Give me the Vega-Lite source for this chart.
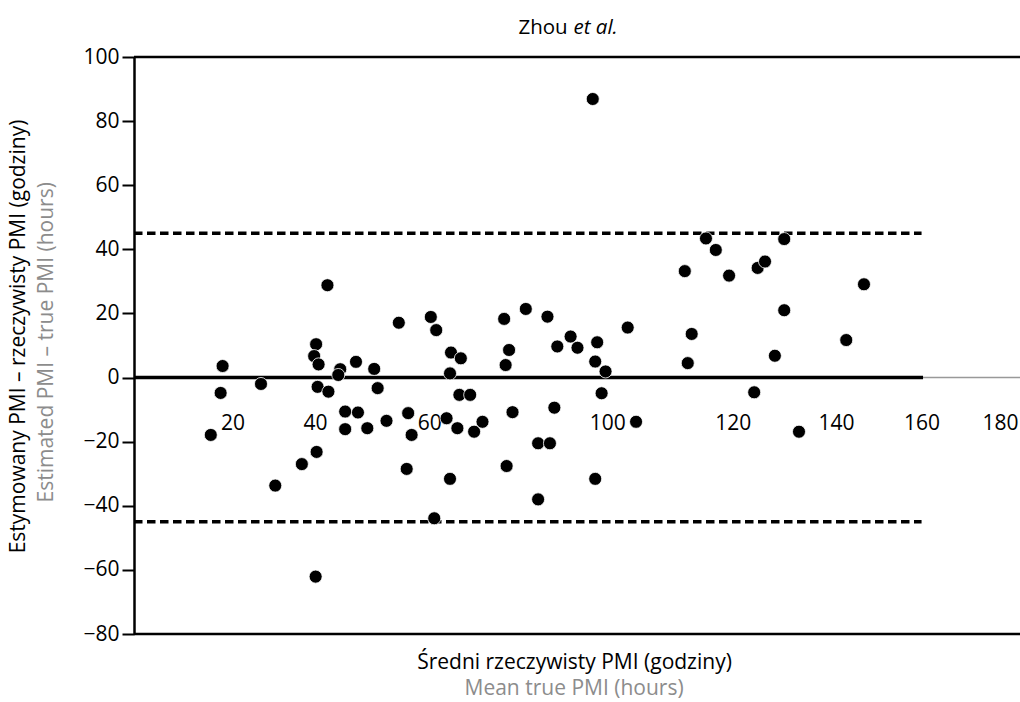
{
  "$schema": "https://vega.github.io/schema/vega-lite/v6.json",
  "width": 886,
  "height": 577,
  "autosize": {"type": "none"},
  "padding": {"left": 134, "top": 57, "right": 0, "bottom": 68},
  "background": "white",
  "config": {"view": {"stroke": null}, "font": "Open Sans"},
  "datasets": {
    "points": [
      {"mean": 15.6, "diff": -17.9}, {"mean": 18.0, "diff": 3.6}, {"mean": 17.6, "diff": -4.8},
      {"mean": 25.8, "diff": -2.0}, {"mean": 28.7, "diff": -33.7}, {"mean": 34.1, "diff": -27.0},
      {"mean": 37.1, "diff": -23.2}, {"mean": 36.9, "diff": -62.1}, {"mean": 37.0, "diff": 10.4},
      {"mean": 36.6, "diff": 6.7}, {"mean": 37.5, "diff": 4.1}, {"mean": 37.3, "diff": -2.9},
      {"mean": 39.3, "diff": 28.8}, {"mean": 39.5, "diff": -4.4}, {"mean": 41.9, "diff": 2.6},
      {"mean": 41.5, "diff": 0.8}, {"mean": 42.9, "diff": -10.6}, {"mean": 42.9, "diff": -16.1},
      {"mean": 45.1, "diff": 4.9}, {"mean": 45.5, "diff": -10.9}, {"mean": 47.4, "diff": -15.8},
      {"mean": 48.8, "diff": 2.7}, {"mean": 49.5, "diff": -3.3}, {"mean": 51.3, "diff": -13.5},
      {"mean": 53.8, "diff": 17.1}, {"mean": 55.4, "diff": -28.5}, {"mean": 55.7, "diff": -11.1},
      {"mean": 56.4, "diff": -17.9}, {"mean": 60.3, "diff": 18.9}, {"mean": 61.4, "diff": 14.8},
      {"mean": 61.0, "diff": -43.9}, {"mean": 63.5, "diff": -12.7}, {"mean": 64.2, "diff": 1.3},
      {"mean": 64.2, "diff": -31.6}, {"mean": 64.4, "diff": 7.8}, {"mean": 65.7, "diff": -15.8},
      {"mean": 66.1, "diff": -5.4}, {"mean": 66.4, "diff": 6.0}, {"mean": 68.3, "diff": -5.4},
      {"mean": 69.1, "diff": -16.9}, {"mean": 70.8, "diff": -13.8}, {"mean": 75.2, "diff": 18.3},
      {"mean": 75.5, "diff": 3.9}, {"mean": 75.7, "diff": -27.6}, {"mean": 76.2, "diff": 8.6},
      {"mean": 76.9, "diff": -10.8}, {"mean": 79.6, "diff": 21.4}, {"mean": 82.1, "diff": -20.5},
      {"mean": 82.1, "diff": -38.0}, {"mean": 84.0, "diff": 19.0}, {"mean": 84.5, "diff": -20.5},
      {"mean": 85.4, "diff": -9.4}, {"mean": 86.0, "diff": 9.7}, {"mean": 88.7, "diff": 12.8},
      {"mean": 90.1, "diff": 9.3}, {"mean": 93.2, "diff": 86.9}, {"mean": 93.7, "diff": 5.0},
      {"mean": 94.1, "diff": 11.0}, {"mean": 93.7, "diff": -31.6}, {"mean": 95.0, "diff": -4.9},
      {"mean": 95.8, "diff": 1.9}, {"mean": 100.3, "diff": 15.6}, {"mean": 102.0, "diff": -13.8},
      {"mean": 111.9, "diff": 33.2}, {"mean": 112.5, "diff": 4.5}, {"mean": 113.3, "diff": 13.6},
      {"mean": 116.2, "diff": 43.4}, {"mean": 118.2, "diff": 39.8}, {"mean": 120.9, "diff": 31.8},
      {"mean": 126.0, "diff": -4.6}, {"mean": 126.7, "diff": 34.2}, {"mean": 128.2, "diff": 36.2},
      {"mean": 130.2, "diff": 6.8}, {"mean": 132.1, "diff": 43.2}, {"mean": 132.1, "diff": 21.0},
      {"mean": 135.1, "diff": -16.9}, {"mean": 144.7, "diff": 11.7}, {"mean": 148.3, "diff": 29.1}
    ],
    "one": [{}],
    "title1": [{"t": "Zhou"}],
    "title2": [{"t": "et al."}],
    "ygrey": [{"t": "Estimated PMI – true PMI (hours)"}],
    "xgrey": [{"t": "Mean true PMI (hours)"}]
  },
  "layer": [
    {
      "data": {"name": "one"},
      "mark": {"type": "rule", "color": "#999999", "strokeWidth": 1.5},
      "encoding": {"y": {"datum": 0}}
    },
    {
      "data": {"name": "one"},
      "mark": {"type": "rule", "color": "black", "strokeWidth": 2.5},
      "encoding": {"y": {"datum": 100}}
    },
    {
      "data": {"name": "one"},
      "mark": {"type": "rule", "color": "black", "strokeWidth": 2.5},
      "encoding": {"y": {"datum": -80}}
    },
    {
      "data": {"name": "one"},
      "mark": {"type": "rule", "color": "black", "strokeWidth": 3.5},
      "encoding": {"x": {"datum": 0}, "x2": {"datum": 160.3}, "y": {"datum": 0}}
    },
    {
      "data": {"name": "one"},
      "mark": {"type": "rule", "color": "black", "strokeWidth": 3.5, "strokeDash": [8.5, 4.5]},
      "encoding": {"x": {"datum": 0}, "x2": {"datum": 160}, "y": {"datum": 45}}
    },
    {
      "data": {"name": "one"},
      "mark": {"type": "rule", "color": "black", "strokeWidth": 3.5, "strokeDash": [8.5, 4.5]},
      "encoding": {"x": {"datum": 0}, "x2": {"datum": 160}, "y": {"datum": -45}}
    },
    {
      "data": {"name": "points"},
      "mark": {"type": "circle", "size": 170, "color": "black", "opacity": 1, "stroke": "white", "strokeWidth": 0.8},
      "encoding": {
        "x": {
          "field": "mean", "type": "quantitative",
          "scale": {"domain": [0, 180], "nice": false, "zero": false},
          "axis": {
            "orient": "bottom",
            "offset": -256.4,
            "values": [20, 40, 60, 100, 120, 140, 160, 180],
            "domain": false, "ticks": false, "grid": false,
            "labelFontSize": 21, "labelColor": "black",
            "labelBaseline": "middle", "labelPadding": 46,
            "labelFlush": false, "labelOverlap": false, "labelBound": false,
            "labelOffset": {
              "condition": [
                {"test": "datum.value == 40", "value": -16},
                {"test": "datum.value == 100", "value": -19},
                {"test": "datum.value == 120", "value": 8},
                {"test": "datum.value == 140", "value": 13},
                {"test": "datum.value == 180", "value": -20}
              ],
              "value": 0
            },
            "title": "Średni rzeczywisty PMI (godziny)",
            "titleFontSize": 21, "titleFontWeight": "normal", "titleColor": "black",
            "titleX": 440, "titleY": 284.4, "titleBaseline": "middle", "titleAlign": "center"
          }
        },
        "y": {
          "field": "diff", "type": "quantitative",
          "scale": {"domain": [-80, 100], "nice": false, "zero": false},
          "axis": {
            "values": [-80, -60, -40, -20, 0, 20, 40, 60, 80, 100],
            "grid": false,
            "domainColor": "black", "domainWidth": 2.5,
            "tickColor": "black", "tickWidth": 2, "tickSize": 12,
            "labelFontSize": 21, "labelColor": "black", "labelPadding": 3,
            "title": "Estymowany PMI – rzeczywisty PMI (godziny)",
            "titleFontSize": 21, "titleFontWeight": "normal", "titleColor": "black",
            "titleX": -116, "titleY": 279, "titleAngle": -90,
            "titleAlign": "center", "titleBaseline": "middle"
          }
        }
      }
    },
    {
      "data": {"name": "title1"},
      "mark": {"type": "text", "align": "right", "baseline": "middle", "fontSize": 20.5, "color": "black"},
      "encoding": {"text": {"field": "t"}, "x": {"datum": 88.1}, "y": {"datum": 109}}
    },
    {
      "data": {"name": "title2"},
      "mark": {"type": "text", "align": "left", "baseline": "middle", "fontSize": 20.5, "fontStyle": "italic", "color": "black"},
      "encoding": {"text": {"field": "t"}, "x": {"datum": 89.3}, "y": {"datum": 109}}
    },
    {
      "data": {"name": "ygrey"},
      "mark": {"type": "text", "align": "center", "baseline": "middle", "fontSize": 21, "angle": 270, "color": "#8c8c8c"},
      "encoding": {"text": {"field": "t"}, "x": {"datum": -17.7}, "y": {"datum": 11}}
    },
    {
      "data": {"name": "xgrey"},
      "mark": {"type": "text", "align": "center", "baseline": "middle", "fontSize": 21, "color": "#8c8c8c"},
      "encoding": {"text": {"field": "t"}, "x": {"datum": 89.4}, "y": {"datum": -97.1}}
    }
  ]
}
